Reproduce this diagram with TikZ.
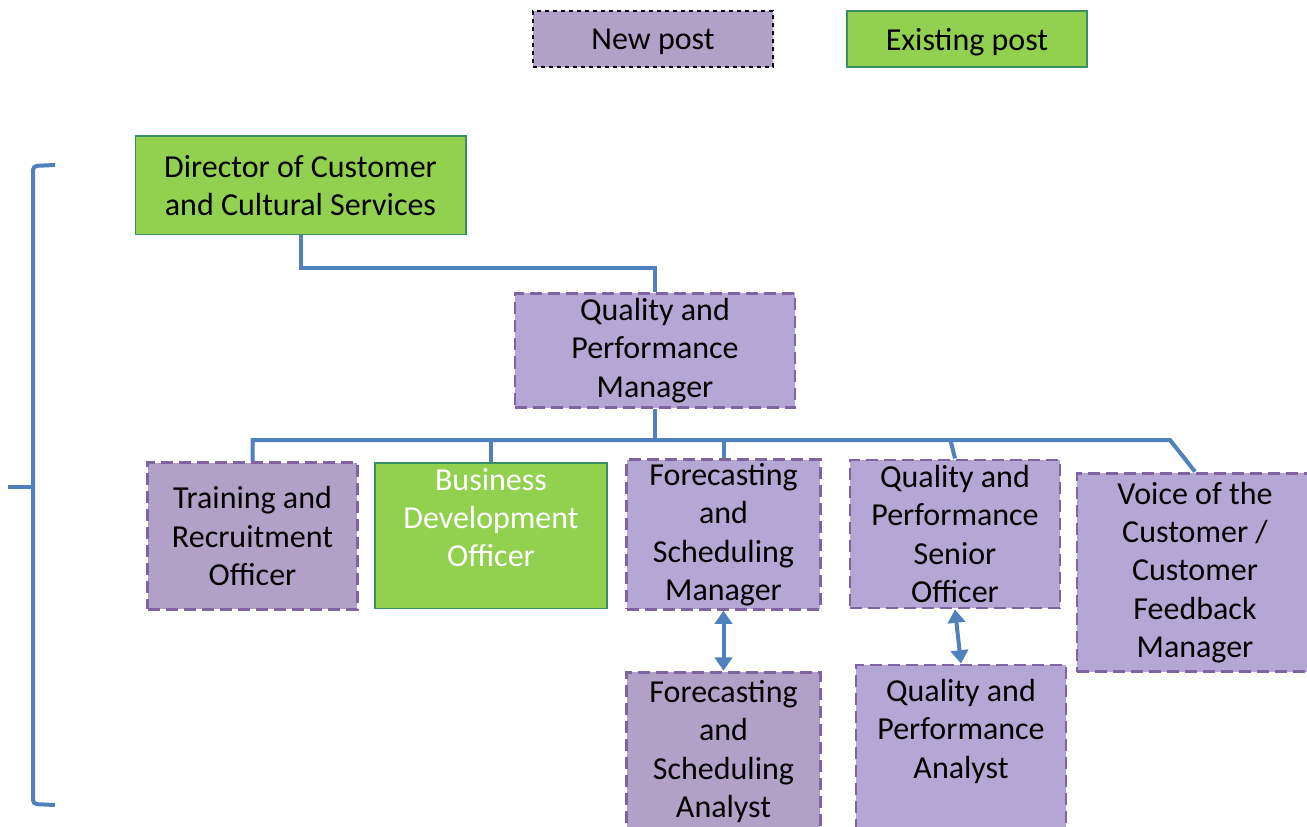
\documentclass[tikz,border=0pt]{standalone}
\usepackage{fontspec}
\setmainfont{Carlito}
\usetikzlibrary{arrows.meta}
\definecolor{newfill}{HTML}{B1A0C7}
\definecolor{newfilltwo}{HTML}{B4A7D6}
\definecolor{newline}{HTML}{8064A2}
\definecolor{oldfill}{HTML}{92D050}
\definecolor{oldline}{HTML}{3A8F62}
\definecolor{connline}{HTML}{4F81BD}
\tikzset{
  post/.style={rectangle,inner sep=0pt,align=center,font=\fontsize{24}{28.8}\selectfont},
  newpost/.style={post,draw=newline,fill=newfilltwo,line width=2.2pt,dash pattern=on 9pt off 4.5pt},
  oldpost/.style={post,draw=oldline,fill=oldfill,line width=1pt},
  toptext/.style={text height=74pt,text depth=27pt},
  conn/.style={draw=connline,line width=3pt},
  dbl/.style={conn,{Triangle[width=13pt,length=10pt]}-{Triangle[width=13pt,length=10pt]}},
}
\begin{document}
\begin{tikzpicture}[x=0.75pt,y=-0.75pt]
\useasboundingbox (0,0) rectangle (1307,827);
% legend
\node[post,draw=black,fill=newfill,line width=1pt,dashed,text depth=0pt,minimum width=180pt,minimum height=42pt] (newlg) at (653,39) {New post};
\node[oldpost,text depth=0pt,minimum width=180pt,minimum height=42pt] (oldlg) at (967,39) {Existing post};
% bracket
\draw[conn,rounded corners=3pt] (55,165) -- (33,166) -- (33,804) -- (55,805);
\draw[conn] (33,487) -- (8,487);
% posts
\node[oldpost,minimum width=248pt,minimum height=74pt] (dir) at (300.5,185.5) {Director of Customer\\and Cultural Services};
\node[newpost,minimum width=210pt,minimum height=86pt] (qpm) at (655,350.5) {Quality and\\Performance\\Manager};
\node[newpost,fill=newfill,minimum width=157pt,minimum height=110pt] (tro) at (252.5,536) {Training and\\Recruitment\\Officer};
\node[oldpost,toptext,text=white,minimum width=174pt,minimum height=109pt] (bdo) at (491,535.5) {Business\\Development\\Officer};
\node[newpost,minimum width=145pt,minimum height=112pt] (fsm) at (723.5,534.5) {Forecasting\\and\\Scheduling\\Manager};
\node[newpost,minimum width=157.5pt,minimum height=111pt] (qps) at (955,534) {Quality and\\Performance\\Senior\\Officer};
\node[newpost,minimum width=177pt,minimum height=149pt] (voc) at (1195,572.5) {Voice of the\\Customer /\\Customer\\Feedback\\Manager};
\node[newpost,fill=newfill,minimum width=145pt,minimum height=119pt] (fsa) at (723.5,751.5) {Forecasting\\and\\Scheduling\\Analyst};
\node[newpost,toptext,minimum width=157.5pt,minimum height=123pt] (qpa) at (961,747) {Quality and\\Performance\\Analyst};
% lines
\draw[conn] (dir.south) -- ++(0,33) -| (qpm.north);
\coordinate (bus) at (655,440);
\draw[conn] (qpm.south) -- (bus);
\draw[conn] (tro.north) -- (tro.north |- bus) -- (1170,440) -- (voc.north);
\foreach \n in {bdo,fsm} \draw[conn] (\n.north) -- (\n.north |- bus);
\draw[conn] (qps.north) -- ++(-5,-20);
\draw[dbl] (fsm.south) -- (fsa.north);
\draw[dbl] (qps.south) -- (qpa.north);
\end{tikzpicture}
\end{document}
